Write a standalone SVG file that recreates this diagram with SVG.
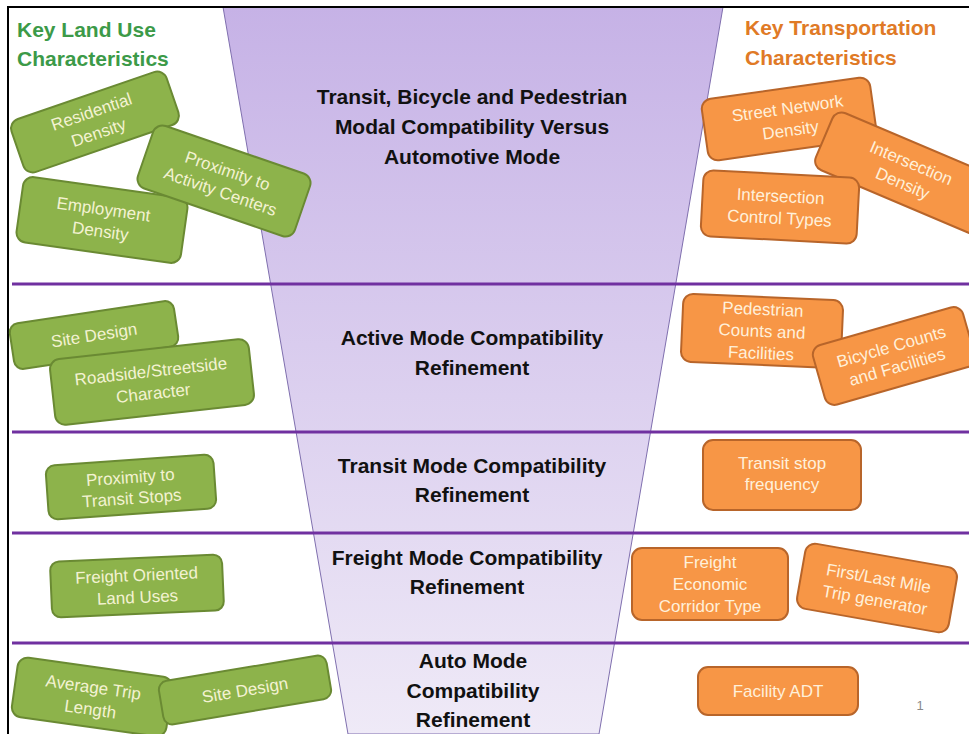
<svg xmlns="http://www.w3.org/2000/svg" width="969" height="734" viewBox="0 0 969 734">
<defs>
<linearGradient id="fg" x1="0" y1="0" x2="0" y2="1">
<stop offset="0" stop-color="#c6b2e6"/>
<stop offset="1" stop-color="#efeaf7"/>
</linearGradient>
<style>
.g rect{fill:#8db34b;stroke:#6a8a33;stroke-width:2}
.o rect{fill:#f79646;stroke:#b8652a;stroke-width:2}
.g text{fill:#f3f2d2;font-family:"Liberation Sans",Arial,sans-serif;font-size:17px;text-anchor:middle}
.o text{fill:#fff0da;font-family:"Liberation Sans",Arial,sans-serif;font-size:17px;text-anchor:middle}
.c{fill:#111;font-family:"Liberation Sans",Arial,sans-serif;font-size:21px;font-weight:bold;text-anchor:middle}
.h{font-family:"Liberation Sans",Arial,sans-serif;font-size:21px;font-weight:bold}
.sep{stroke:#7030a0;stroke-width:3}
</style>
</defs>
<rect width="969" height="734" fill="#fff"/>
<polygon points="223,7 723,7 599,734 348,734" fill="url(#fg)" stroke="#7f6fae" stroke-width="1"/>
<g id="connectors">
<line class="sep" x1="12" y1="284" x2="969" y2="284"/>
<line class="sep" x1="12" y1="432" x2="969" y2="432"/>
<line class="sep" x1="12" y1="533" x2="969" y2="533"/>
<line class="sep" x1="12" y1="643" x2="969" y2="643"/>
</g>
<path d="M8,734 V7 H969" fill="none" stroke="#000" stroke-width="2"/>
<g id="headings">
<text class="h" x="17" y="37" fill="#3c9a48">Key Land Use</text>
<text class="h" x="17" y="66" fill="#3c9a48">Characteristics</text>
<text class="h" x="745" y="35" fill="#e07a26">Key Transportation</text>
<text class="h" x="745" y="65" fill="#e07a26">Characteristics</text>
</g>
<g id="center-labels">
<text class="c" x="472" y="104">Transit, Bicycle and Pedestrian</text>
<text class="c" x="472" y="134">Modal Compatibility Versus</text>
<text class="c" x="472" y="164">Automotive Mode</text>
<text class="c" x="472" y="345">Active Mode Compatibility</text>
<text class="c" x="472" y="375">Refinement</text>
<text class="c" x="472" y="473">Transit Mode Compatibility</text>
<text class="c" x="472" y="502">Refinement</text>
<text class="c" x="467" y="565">Freight Mode Compatibility</text>
<text class="c" x="467" y="594">Refinement</text>
<text class="c" x="473" y="668">Auto Mode</text>
<text class="c" x="473" y="698">Compatibility</text>
<text class="c" x="473" y="727">Refinement</text>
</g>
<g id="residential-density" class="g" transform="translate(95,122) rotate(-19)">
<rect x="-82" y="-28" width="164" height="56" rx="10"/>
<text y="-5">Residential</text><text y="17">Density</text>
</g>
<g id="employment-density" class="g" transform="translate(102,220) rotate(8)">
<rect x="-83" y="-33" width="166" height="66" rx="10"/>
<text y="-5">Employment</text><text y="17">Density</text>
</g>
<g id="proximity-activity" class="g" transform="translate(224,181) rotate(19)">
<rect x="-83" y="-33" width="166" height="66" rx="10"/>
<text y="-5">Proximity to</text><text y="17">Activity Centers</text>
</g>
<g id="street-network-density" class="o" transform="translate(789,119) rotate(-8)">
<rect x="-85" y="-31" width="170" height="62" rx="10"/>
<text y="-5">Street Network</text><text y="17">Density</text>
</g>
<g id="intersection-density" class="o" transform="translate(907,173) rotate(23)">
<rect x="-90" y="-31" width="180" height="62" rx="10"/>
<text y="-5">Intersection</text><text y="17">Density</text>
</g>
<g id="intersection-control" class="o" transform="translate(780,207) rotate(3)">
<rect x="-78" y="-33" width="156" height="66" rx="10"/>
<text y="-5">Intersection</text><text y="17">Control Types</text>
</g>
<g id="site-design-active" class="g" transform="translate(94,335) rotate(-8.6)">
<rect x="-83" y="-23" width="166" height="46" rx="9"/>
<text y="6">Site Design</text>
</g>
<g id="roadside-character" class="g" transform="translate(152,382) rotate(-6.3)">
<rect x="-100" y="-33" width="200" height="66" rx="10"/>
<text y="-5">Roadside/Streetside</text><text y="17">Character</text>
</g>
<g id="proximity-transit" class="g" transform="translate(131,487) rotate(-4)">
<rect x="-84" y="-27" width="168" height="54" rx="9"/>
<text y="-4">Proximity to</text><text y="17">Transit Stops</text>
</g>
<g id="pedestrian-counts" class="o" transform="translate(762,331) rotate(2.5)">
<rect x="-80" y="-34" width="160" height="68" rx="10"/>
<text y="-16">Pedestrian</text><text y="6">Counts and</text><text y="28">Facilities</text>
</g>
<g id="bicycle-counts" class="o" transform="translate(894,356) rotate(-16)">
<rect x="-78" y="-31" width="156" height="62" rx="10"/>
<text y="-4">Bicycle Counts</text><text y="17">and Facilities</text>
</g>
<g id="transit-stop-frequency" class="o" transform="translate(782,475)">
<rect x="-79" y="-35" width="158" height="70" rx="10"/>
<text y="-6">Transit stop</text><text y="15">frequency</text>
</g>
<g id="freight-land-uses" class="g" transform="translate(137,586) rotate(-2.5)">
<rect x="-86" y="-28" width="172" height="56" rx="9"/>
<text y="-5">Freight Oriented</text><text y="17">Land Uses</text>
</g>
<g id="freight-corridor" class="o" transform="translate(710,584)">
<rect x="-78" y="-36" width="156" height="72" rx="10"/>
<text y="-16">Freight</text><text y="6">Economic</text><text y="28">Corridor Type</text>
</g>
<g id="first-last-mile" class="o" transform="translate(877,588) rotate(10)">
<rect x="-77" y="-33" width="154" height="66" rx="10"/>
<text y="-4">First/Last Mile</text><text y="18">Trip generator</text>
</g>
<g id="average-trip-length" class="g" transform="translate(92,697) rotate(8)">
<rect x="-78" y="-30" width="156" height="60" rx="10"/>
<text y="-4">Average Trip</text><text y="18">Length</text>
</g>
<g id="site-design-auto" class="g" transform="translate(245,690) rotate(-9.5)">
<rect x="-85" y="-22" width="170" height="44" rx="9"/>
<text y="6">Site Design</text>
</g>
<g id="facility-adt" class="o" transform="translate(778,691)">
<rect x="-80" y="-24" width="160" height="48" rx="10"/>
<text y="6">Facility ADT</text>
</g>
<text x="920" y="710" font-family="Liberation Sans,Arial,sans-serif" font-size="13" fill="#8a8a8a" text-anchor="middle">1</text>
</svg>
